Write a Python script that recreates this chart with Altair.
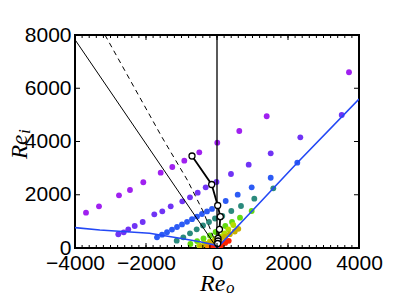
import altair as alt
import pandas as pd

# ---------------- data (x = Re_o, y = Re_i) ----------------
purple_x = [-3690, -3324, -2761, -2451, -2076, -1586, -1259, -921, -499, 8, 628, 1400, 3718]
purple_y = [1326, 1566, 1979, 2178, 2468, 2828, 3042, 3279, 3594, 3955, 4395, 4947, 6600]
violet_x = [-2780, -2628, -2499, -2318, -2093, -1766, -1541, -1304, -977, -761, -544, -318, -14,
            394, 893, 1513, 2347, 3513]
violet_y = [515, 590, 702, 826, 977, 1266, 1378, 1566, 1754, 1904, 2077, 2280, 2479,
            2779, 3129, 3557, 4158, 4995]
blue_x = [-1690, -1549, -1409, -1268, -1127, -986, -845, -704, -563, -423, -282, -141,
          245, 583, 977, 1513, 2262]
blue_y = [402, 500, 593, 691, 789, 886, 984, 1082, 1179, 1277, 1374, 1469,
          1765, 2002, 2280, 2640, 3204]
teal_x = [-1135, -949, -761, -572, -394, -225, -56, 149, 403, 676, 1051, 1586]
teal_y = [274, 402, 552, 702, 845, 977, 1108, 1202, 1390, 1578, 1852, 2242]
green_x = [-750, -560, -380, -200, -40, 85, 234, 423, 648, 977]
green_y = [150, 260, 360, 470, 600, 714, 826, 977, 1138, 1390]
lime_x = [-500, -350, -200, -60, 85, 206, 318, 459]
lime_y = [90, 170, 250, 340, 424, 552, 702, 864]
olive_x = [-450, -300, -170, -50, 85, 220, 360, 500, 600]
olive_y = [60, 130, 200, 260, 330, 420, 520, 620, 720]
orange_x = [-250, -120, 0, 120, 250]
orange_y = [40, 60, 80, 150, 260]
red_x = [-150, -60, 30, 130, 230, 330]
red_y = [10, 20, 40, 110, 190, 270]

groups = ["purple", "violet", "blue", "teal", "green", "lime", "olive", "orange", "red"]
group_colors = ["#A020F0", "#7033F5", "#2C5BF5", "#2A8A7C", "#62DA10", "#B4DC00",
                "#C8B000", "#F58A00", "#FF2200"]
group_x = [purple_x, violet_x, blue_x, teal_x, green_x, lime_x, olive_x, orange_x, red_x]
group_y = [purple_y, violet_y, blue_y, teal_y, green_y, lime_y, olive_y, orange_y, red_y]

# lines
solid_x = [-4000, 0]
solid_y = [7825, 0]
dashed_x = [-3155, -1558, -837, -386, -104, 0]
dashed_y = [8000, 4180, 2554, 1363, 424, 0]
vert_x = [0, 0]
vert_y = [0, 8000]
bline_x = [-4000, -3300, -1900, -1000, -480, -60, 0, 1000, 2262, 4000]
bline_y = [765, 676, 552, 355, 237, 113, 0, 1410, 3204, 5597]
circ_x = [-704, -150, 20, 93, 70, 28, 28, 20]
circ_y = [3456, 2385, 1596, 1176, 702, 364, 263, 169]

# ticks / labels
x_major = [-4000, -2000, 0, 2000, 4000]
x_minor = list(range(-4000, 4001, 200))
y_major = [0, 2000, 4000, 6000, 8000]

W, H = 284, 213
xs = alt.Scale(domain=[-4000, 4000], nice=False, zero=False)
ys = alt.Scale(domain=[0, 8000], nice=False, zero=False)
LABEL_FONT = "Liberation Sans"

AX = alt.Axis(values=x_major, format="d", ticks=False, domain=False, grid=False,
              labelFont=LABEL_FONT, labelFontSize=21, labelColor="black",
              labelPadding=4, title=None, labelFlush=False, labelOverlap=False)
AY = alt.Axis(values=y_major, format="d", ticks=False, domain=False, grid=False,
              labelFont=LABEL_FONT, labelFontSize=21, labelColor="black",
              labelPadding=4, title=None, labelFlush=False, labelOverlap=False)

rows = []
for g, gx, gy in zip(groups, group_x, group_y):
    for a, b in zip(gx, gy):
        rows.append({"x": a, "y": b, "g": g})
pts = pd.DataFrame(rows)

def line_df(xv, yv):
    return pd.DataFrame({"x": xv, "y": yv, "o": list(range(len(xv)))})

def X():
    return alt.X("x:Q", scale=xs, axis=AX)

def Y():
    return alt.Y("y:Q", scale=ys, axis=AY)

points = alt.Chart(pts).mark_circle(size=34, opacity=1, clip=True).encode(
    x=X(), y=Y(),
    color=alt.Color("g:N", scale=alt.Scale(domain=groups, range=group_colors), legend=None),
)

def lin(xv, yv, color, width, dash=None):
    kw = dict(color=color, strokeWidth=width, clip=True)
    if dash:
        kw["strokeDash"] = dash
    return alt.Chart(line_df(xv, yv)).mark_line(**kw).encode(
        x=X(), y=Y(), order="o:Q")

solid = lin(solid_x, solid_y, "black", 1)
dashed = lin(dashed_x, dashed_y, "black", 1, [5, 4])
vert = lin(vert_x, vert_y, "black", 1.3)
bline = lin(bline_x, bline_y, "#2348F5", 1.6)
cline = lin(circ_x, circ_y, "black", 1.8)
cpts = alt.Chart(line_df(circ_x, circ_y)).mark_point(
    shape="circle", filled=True, fill="white", stroke="black", strokeWidth=1.3,
    size=36, opacity=1).encode(x=X(), y=Y())

# inward ticks on all four sides
xmaj = pd.DataFrame({"x": x_major})
xmin = pd.DataFrame({"x": x_minor})
ymaj = pd.DataFrame({"y": y_major})

def xt(df, y0, y1):
    return alt.Chart(df).mark_rule(color="black", strokeWidth=1).encode(
        x=X(), y=alt.value(y0), y2=alt.value(y1))

def yt(df, x0, x1):
    return alt.Chart(df).mark_rule(color="black", strokeWidth=1).encode(
        y=Y(), x=alt.value(x0), x2=alt.value(x1))

ticks = [xt(xmin, H, H - 3), xt(xmaj, H, H - 5), xt(xmin, 0, 3), xt(xmaj, 0, 5),
         yt(ymaj, 0, 5), yt(ymaj, W, W - 5)]

# axis titles (italic serif with subscripts)
def txt(s, x, y, size, angle=0):
    return alt.Chart(pd.DataFrame({"t": [s]})).mark_text(
        font="Liberation Serif", fontStyle="italic", fontSize=size, color="black",
        align="left", baseline="alphabetic", angle=angle).encode(
        text="t:N", x=alt.value(x), y=alt.value(y))

titles = [
    txt("Re", 125, 256, 24),
    txt("o", 151, 258, 17),
    txt("Re", -48, 124, 23, angle=270),
    txt("i", -45, 99, 17, angle=270),
]

chart = alt.layer(points, solid, dashed, vert, bline, cline, cpts, *ticks, *titles).properties(
    width=W, height=H,
    padding={"left": 67, "top": 27, "right": 40, "bottom": 50},
    autosize=alt.AutoSizeParams(type="none"),
).configure_view(stroke="black", strokeWidth=2)

chart.save("out.html", embed_options={"renderer": "svg", "actions": False})
